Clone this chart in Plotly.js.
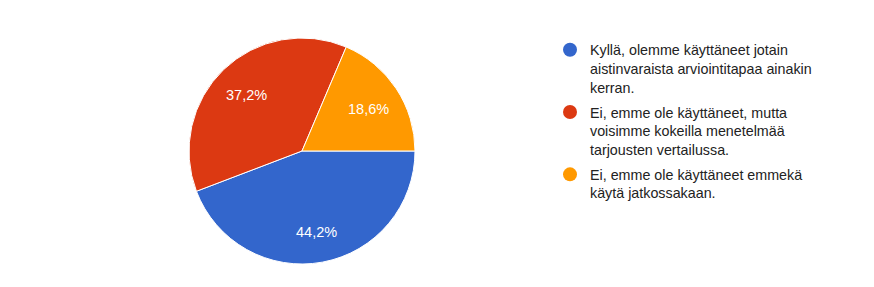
<!DOCTYPE html>
<html><head><meta charset="utf-8">
<script src="https://cdn.plot.ly/plotly-3.0.1.min.js"></script>
<style>html,body{margin:0;padding:0;background:#fff;}#chart{width:874px;height:287px;}</style>
</head><body><div id="chart"></div>
<script>
const categories = [
  "Kyllä, olemme käyttäneet jotain<br>aistinvaraista arviointitapaa ainakin<br>kerran.",
  "Ei, emme ole käyttäneet, mutta<br>voisimme kokeilla menetelmää<br>tarjousten vertailussa.",
  "Ei, emme ole käyttäneet emmekä<br>käytä jatkossakaan."
];
const values = [44.2, 37.2, 18.6];
const colors = ["#3366cc", "#dc3912", "#ff9900"];
const labelsText = ["44,2%", "37,2%", "18,6%"];

const W = 874, H = 287;
const font = "Arial, 'Liberation Sans', sans-serif";
const dom = {x: [189/W, 415/W], y: [1 - 264/H, 1 - 38/H]};
const startAngle = 90; // degrees clockwise from 12 o'clock

const traces = [{
  type: "pie",
  labels: categories,
  values: values,
  textinfo: "none",
  marker: {colors: colors, line: {color: "#ffffff", width: 1}},
  sort: false,
  direction: "clockwise",
  rotation: startAngle,
  showlegend: false,
  hoverinfo: "none",
  domain: dom
}];
categories.forEach((c, i) => {
  traces.push({
    type: "scatter", mode: "markers", x: [null], y: [null], name: c,
    legendgroup: "g" + i,
    marker: {symbol: "circle", size: 14, color: colors[i]},
    showlegend: true, hoverinfo: "none"
  });
});

// slice labels placed at the middle angle of each slice
const total = values.reduce((a, b) => a + b, 0);
const cxPx = (dom.x[0] + dom.x[1]) / 2 * W;
const cyPx = (1 - (dom.y[0] + dom.y[1]) / 2) * H;
const rPx = Math.min((dom.x[1] - dom.x[0]) * W, (dom.y[1] - dom.y[0]) * H) / 2;
const labelR = 0.71 * rPx;
let acc = 0;
const annotations = values.map((v, i) => {
  const mid = (startAngle + (acc + v / 2) / total * 360) * Math.PI / 180;
  acc += v;
  const px = cxPx + labelR * Math.sin(mid);
  const py = cyPx - labelR * Math.cos(mid);
  return {
    xref: "paper", yref: "paper", x: px / W, y: 1 - py / H,
    xanchor: "center", yanchor: "middle", showarrow: false, yshift: -2,
    text: labelsText[i],
    font: {family: font, size: 14.5, color: "#ffffff"}
  };
});

const layout = {
  width: W, height: H,
  margin: {l: 0, r: 0, t: 0, b: 0},
  paper_bgcolor: "#ffffff", plot_bgcolor: "rgba(0,0,0,0)",
  xaxis: {visible: false}, yaxis: {visible: false},
  showlegend: true,
  annotations: annotations,
  legend: {
    x: 550/W, y: 1 - 34/H, xanchor: "left", yanchor: "top",
    font: {family: font, size: 14.3, color: "#222222"},
    traceorder: "grouped", tracegroupgap: 3.5, valign: "top",
    bgcolor: "rgba(0,0,0,0)", itemsizing: "trace"
  }
};
Plotly.newPlot("chart", traces, layout, {staticPlot: true});
</script></body></html>
